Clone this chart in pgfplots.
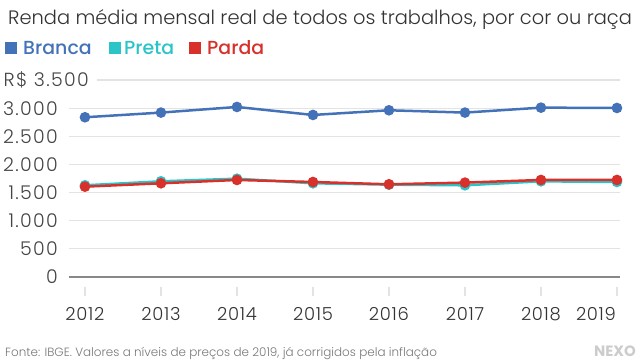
\documentclass[border=0pt]{standalone}
\usepackage{pgfplots}
\pgfplotsset{compat=1.18}
\usepackage{fontspec}
\setmainfont{Poppins Light}
\newfontfamily\titlefont{Poppins Light}
\newfontfamily\medfont{Poppins Medium}
\newfontfamily\boldfont{Poppins Bold}
\newfontfamily\numfont{Poppins Light}[LetterSpace=7]
\newfontfamily\yearfont{Poppins Light}[LetterSpace=4]
\definecolor{cblue}{HTML}{4472B8}
\definecolor{ccyan}{HTML}{2BC4C7}
\definecolor{cred}{HTML}{D8302A}
\definecolor{txt}{HTML}{333333}
\definecolor{lbl}{HTML}{444444}
\definecolor{gridc}{HTML}{E3E3E3}
\definecolor{zeroc}{HTML}{888888}
\definecolor{foot}{HTML}{777777}
\definecolor{nexo}{HTML}{CCCCCC}
\begin{document}
\begin{tikzpicture}
\path[use as bounding box] (0bp,0bp) rectangle (640bp,360bp);
\node[anchor=base west, inner sep=0pt, text=txt, font=\titlefont\fontsize{19.5}{19.5}\selectfont] at (8bp,335bp) {Renda média mensal real de todos os trabalhos, por cor ou raça};
\fill[cblue] (5bp,306bp) rectangle (17bp,318bp);
\node[anchor=base west, inner sep=0pt, text=cblue, font=\medfont\fontsize{19}{19}\selectfont] at (23bp,305bp) {Branca};
\fill[ccyan] (109bp,306bp) rectangle (121bp,318bp);
\node[anchor=base west, inner sep=0pt, text=ccyan, font=\medfont\fontsize{19}{19}\selectfont] at (124bp,305bp) {Preta};
\fill[cred] (189bp,306bp) rectangle (201bp,318bp);
\node[anchor=base west, inner sep=0pt, text=cred, font=\medfont\fontsize{19}{19}\selectfont] at (207bp,305bp) {Parda};
\begin{axis}[
  at={(69bp,83bp)}, anchor=south west, scale only axis,
  width=551bp, height=197bp,
  xmin=2011.79, xmax=2019.04, ymin=0, ymax=3500,
  axis line style={draw=none},
  clip=false,
  major tick length=0pt,
  ytick={0,500,1000,1500,2000,2500,3000},
  yticklabels={0,500,1.000,1.500,2.000,2.500,3.000},
  ymajorgrids, grid style={gridc, line width=1.2bp},
  extra y ticks={3500}, extra y tick labels={R\$ 3.500},
  extra y tick style={grid=none, yticklabel style={xshift=31bp}},
  xtick={2012,2013,2014,2015,2016,2017,2018},
  xticklabels={2012,2013,2014,2015,2016,2017,2018},
  extra x ticks={2019}, extra x tick labels={2019},
  extra x tick style={grid=none, xticklabel style={xshift=-21bp}},
  yticklabel style={anchor=east, inner sep=0pt, xshift=-11bp, text=lbl, font=\numfont\fontsize{19}{19}\selectfont},
  xticklabel style={anchor=base, inner sep=0pt, yshift=-43bp, text=txt, font=\yearfont\fontsize{18}{18}\selectfont},
]
\draw[gridc, line width=1.2bp] (rel axis cs:0.0508,1) -- (rel axis cs:1,1);
\draw[zeroc, line width=2bp] (rel axis cs:0,0) -- (rel axis cs:1,0);
\pgfplotsinvokeforeach{2012,2013,2014,2015,2016,2017,2018,2019}{
  \draw[gridc, line width=1.2bp] ([yshift=-10bp]axis cs:#1,0) -- ([yshift=-19bp]axis cs:#1,0);
}
\addplot[ccyan, line width=2.5bp, mark=*, mark size=4bp] coordinates {
(2012,1629) (2013,1700) (2014,1747) (2015,1665) (2016,1641) (2017,1629) (2018,1700) (2019,1688)};
\addplot[cred, line width=2.5bp, mark=*, mark size=4bp] coordinates {
(2012,1605) (2013,1665) (2014,1724) (2015,1688) (2016,1647) (2017,1677) (2018,1724) (2019,1724)};
\addplot[cblue, line width=2.5bp, mark=*, mark size=4bp] coordinates {
(2012,2838) (2013,2921) (2014,3021) (2015,2879) (2016,2962) (2017,2921) (2018,3009) (2019,3003)};
\end{axis}
\node[anchor=base west, inner sep=0pt, text=foot, font=\fontsize{12}{12}\selectfont] at (5bp,4bp) {Fonte: IBGE. Valores a níveis de preços de 2019, já corrigidos pela inflação};
\node[anchor=base east, inner sep=0pt, text=nexo, font=\boldfont\fontsize{15}{15}\selectfont] at (636bp,4bp) {NEXO};
\end{tikzpicture}
\end{document}
